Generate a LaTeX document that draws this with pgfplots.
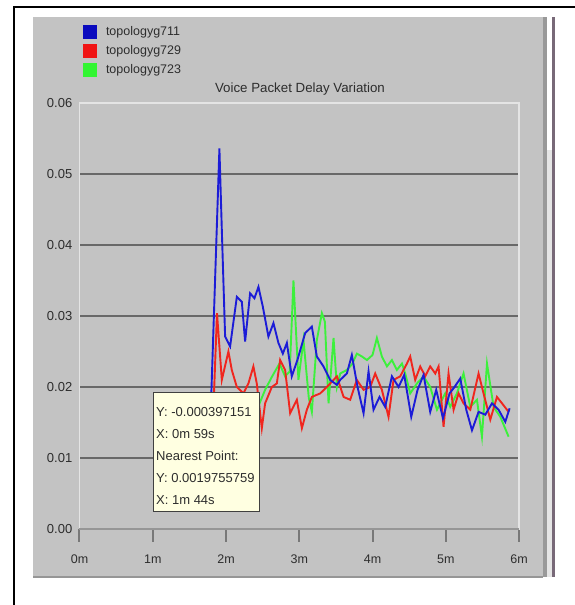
\documentclass[border=0pt]{standalone}
\usepackage{fontspec}
\setmainfont{Liberation Sans}
\usepackage{pgfplots}
\pgfplotsset{compat=1.18}
\definecolor{panelgray}{RGB}{195,195,195}
\definecolor{gridgray}{RGB}{104,104,104}
\definecolor{lightline}{RGB}{228,228,228}
\definecolor{axisgray}{RGB}{150,150,150}
\definecolor{tickgray}{RGB}{120,120,120}
\definecolor{blueline}{RGB}{28,28,215}
\definecolor{redline}{RGB}{240,38,30}
\definecolor{greenline}{RGB}{60,240,60}
\definecolor{legblue}{RGB}{10,10,190}
\definecolor{legred}{RGB}{240,20,20}
\definecolor{leggreen}{RGB}{50,245,50}
\definecolor{tipfill}{RGB}{255,255,225}
\definecolor{txt}{RGB}{45,45,45}
\definecolor{stripdark}{RGB}{120,105,120}
\begin{document}
\begin{tikzpicture}[x=1pt,y=1pt]
\useasboundingbox (0,0) rectangle (575,605);
% outer black frame (left and top edges)
\fill[black] (12.5,0) rectangle (14.5,599);
\fill[black] (12.5,597) rectangle (575,599);
% grey panel
\fill[panelgray] (33,28) rectangle (543,588);
\fill[axisgray] (33,27) rectangle (543,29);
% scroll strip
\fill[gray!80] (543,28) rectangle (547,588);
\fill[black!10] (547,28) rectangle (552,588);
\fill[white] (547,455) rectangle (552,588);
\fill[stripdark] (552,28) rectangle (555,588);
\begin{axis}[
  at={(79.5pt,76pt)}, anchor=south west,
  scale only axis, width=439.5pt, height=426pt,
  xmin=0, xmax=6, ymin=0, ymax=0.06,
  clip=false,
  axis background/.style={fill=panelgray},
  axis line style={draw=lightline, line width=1.5pt},
  xtick={0,1,2,3,4,5,6},
  xticklabels={0m,1m,2m,3m,4m,5m,6m},
  ytick={0.01,0.02,0.03,0.04,0.05},
  extra y ticks={0,0.06},
  extra y tick style={grid=none},
  scaled y ticks=false,
  /pgf/number format/.cd, fixed, fixed zerofill, precision=2, assume math mode=true,
  /pgfplots/.cd,
  ymajorgrids,
  grid style={draw=gridgray, line width=2pt},
  tick pos=left,
  xtick align=outside, ytick align=inside,
  major tick length=13pt,
  xtick style={draw=tickgray, line width=2pt},
  ytick style={draw=none},
  xticklabel style={font=\fontsize{12.5}{14}\selectfont, text=txt, anchor=base, inner sep=0pt, yshift=-21pt},
  yticklabel style={font=\fontsize{13}{15}\selectfont, text=txt, anchor=east, inner sep=0pt, xshift=-7pt},
  legend style={at={(0.008,1.184)}, anchor=north west, draw=none, fill=none,
    inner sep=0pt, outer sep=0pt, row sep=5pt, column sep=9pt,
    font=\fontsize{12.5}{14}\selectfont,
    nodes={inner sep=0pt, text=txt}},
  legend cell align=left,
  legend image code/.code={\fill[#1, draw=none] (0pt,-7pt) rectangle (14pt,7pt);},
]
\addplot[greenline, line width=1.9pt, forget plot] coordinates {
(2.45,0.0175) (2.534,0.0196) (2.63,0.0215) (2.730,0.0233) (2.807,0.0215) (2.87,0.0222)
(2.921,0.0350) (2.989,0.0210) (3.058,0.0266) (3.13,0.0185) (3.172,0.0165) (3.240,0.0266)
(3.309,0.0304) (3.350,0.0292) (3.400,0.0177) (3.468,0.0269) (3.514,0.0200) (3.559,0.0219)
(3.650,0.0224) (3.720,0.0232) (3.787,0.0247) (3.855,0.0243) (3.924,0.0238) (4.000,0.0245)
(4.060,0.0269) (4.128,0.0243) (4.197,0.0229) (4.265,0.0238) (4.333,0.0224) (4.402,0.0233)
(4.447,0.0219) (4.515,0.0191) (4.607,0.0205) (4.697,0.0215) (4.788,0.0200) (4.880,0.0168)
(4.993,0.0191) (5.061,0.0172) (5.152,0.0191) (5.243,0.0219) (5.335,0.0172) (5.426,0.0182)
(5.494,0.0130) (5.563,0.0233) (5.653,0.0172) (5.745,0.0158) (5.858,0.0130)
};
\addplot[redline, line width=1.9pt, forget plot] coordinates {
(1.78,0.0035) (1.877,0.0304) (1.943,0.0210) (2.033,0.0250) (2.079,0.0224) (2.148,0.0200)
(2.238,0.0191) (2.306,0.0205) (2.374,0.0229) (2.420,0.0205) (2.489,0.0142) (2.534,0.0177)
(2.626,0.0200) (2.694,0.0205) (2.739,0.0238) (2.807,0.0224) (2.876,0.0163) (2.967,0.0182)
(3.036,0.0142) (3.104,0.0168) (3.172,0.0186) (3.286,0.0191) (3.377,0.0200) (3.514,0.0215)
(3.605,0.0186) (3.695,0.0182) (3.786,0.0210) (3.878,0.0196) (3.969,0.0200) (4.037,0.0219)
(4.128,0.0196) (4.219,0.0158) (4.287,0.0210) (4.378,0.0215) (4.470,0.0233) (4.515,0.0243)
(4.583,0.0210) (4.652,0.0229) (4.720,0.0215) (4.788,0.0229) (4.857,0.0219) (4.902,0.0229)
(4.970,0.0144) (5.038,0.0219) (5.107,0.0168) (5.175,0.0191) (5.243,0.0177) (5.335,0.0168)
(5.448,0.0219) (5.516,0.0191) (5.608,0.0154) (5.699,0.0186) (5.768,0.0177) (5.858,0.0165)
};
\addplot[blueline, line width=1.9pt, forget plot] coordinates {
(1.75,0.0035) (1.910,0.0536) (1.943,0.0421) (1.988,0.0271) (2.056,0.0257) (2.148,0.0327)
(2.216,0.0320) (2.261,0.0264) (2.329,0.0332) (2.388,0.0325) (2.443,0.0341) (2.503,0.0313)
(2.579,0.0271) (2.648,0.0290) (2.716,0.0262) (2.776,0.0247) (2.831,0.0262) (2.898,0.0215)
(2.975,0.0238) (3.081,0.0276) (3.172,0.0285) (3.240,0.0243) (3.331,0.0229) (3.422,0.0210)
(3.514,0.0203) (3.559,0.0210) (3.650,0.0219) (3.718,0.0245) (3.796,0.0200) (3.878,0.0163)
(3.946,0.0222) (4.014,0.0168) (4.096,0.0186) (4.173,0.0172) (4.265,0.0215) (4.356,0.0200)
(4.433,0.0217) (4.529,0.0158) (4.615,0.0196) (4.697,0.0217) (4.788,0.0165) (4.870,0.0196)
(4.962,0.0156) (5.052,0.0191) (5.120,0.0200) (5.198,0.0212) (5.280,0.0168) (5.358,0.0139)
(5.448,0.0165) (5.540,0.0161) (5.631,0.0177) (5.721,0.0168) (5.813,0.0151) (5.872,0.0170)
};
\addlegendimage{fill=legblue}
\addlegendentry{topologyg711}
\addlegendimage{fill=legred}
\addlegendentry{topologyg729}
\addlegendimage{fill=leggreen}
\addlegendentry{topologyg723}
\draw[axisgray, line width=2pt] (axis cs:0,0) -- (axis cs:6,0);
\end{axis}
% title
\node[anchor=base, font=\fontsize{13.3}{15}\selectfont, text=txt, inner sep=0pt] at (300,512) {Voice Packet Delay Variation};
% tooltip
\filldraw[fill=tipfill, draw=black!75, line width=1pt] (153,93) rectangle (259,212);
\begin{scope}[every node/.style={anchor=base west, inner sep=0pt, font=\fontsize{13}{15}\selectfont, text=txt}]
\node at (156,188) {Y: -0.000397151};
\node at (156,166.5) {X: 0m 59s};
\node at (156,144.5) {Nearest Point:};
\node at (156,122) {Y: 0.0019755759};
\node at (156,100) {X: 1m 44s};
\end{scope}
\end{tikzpicture}
\end{document}
